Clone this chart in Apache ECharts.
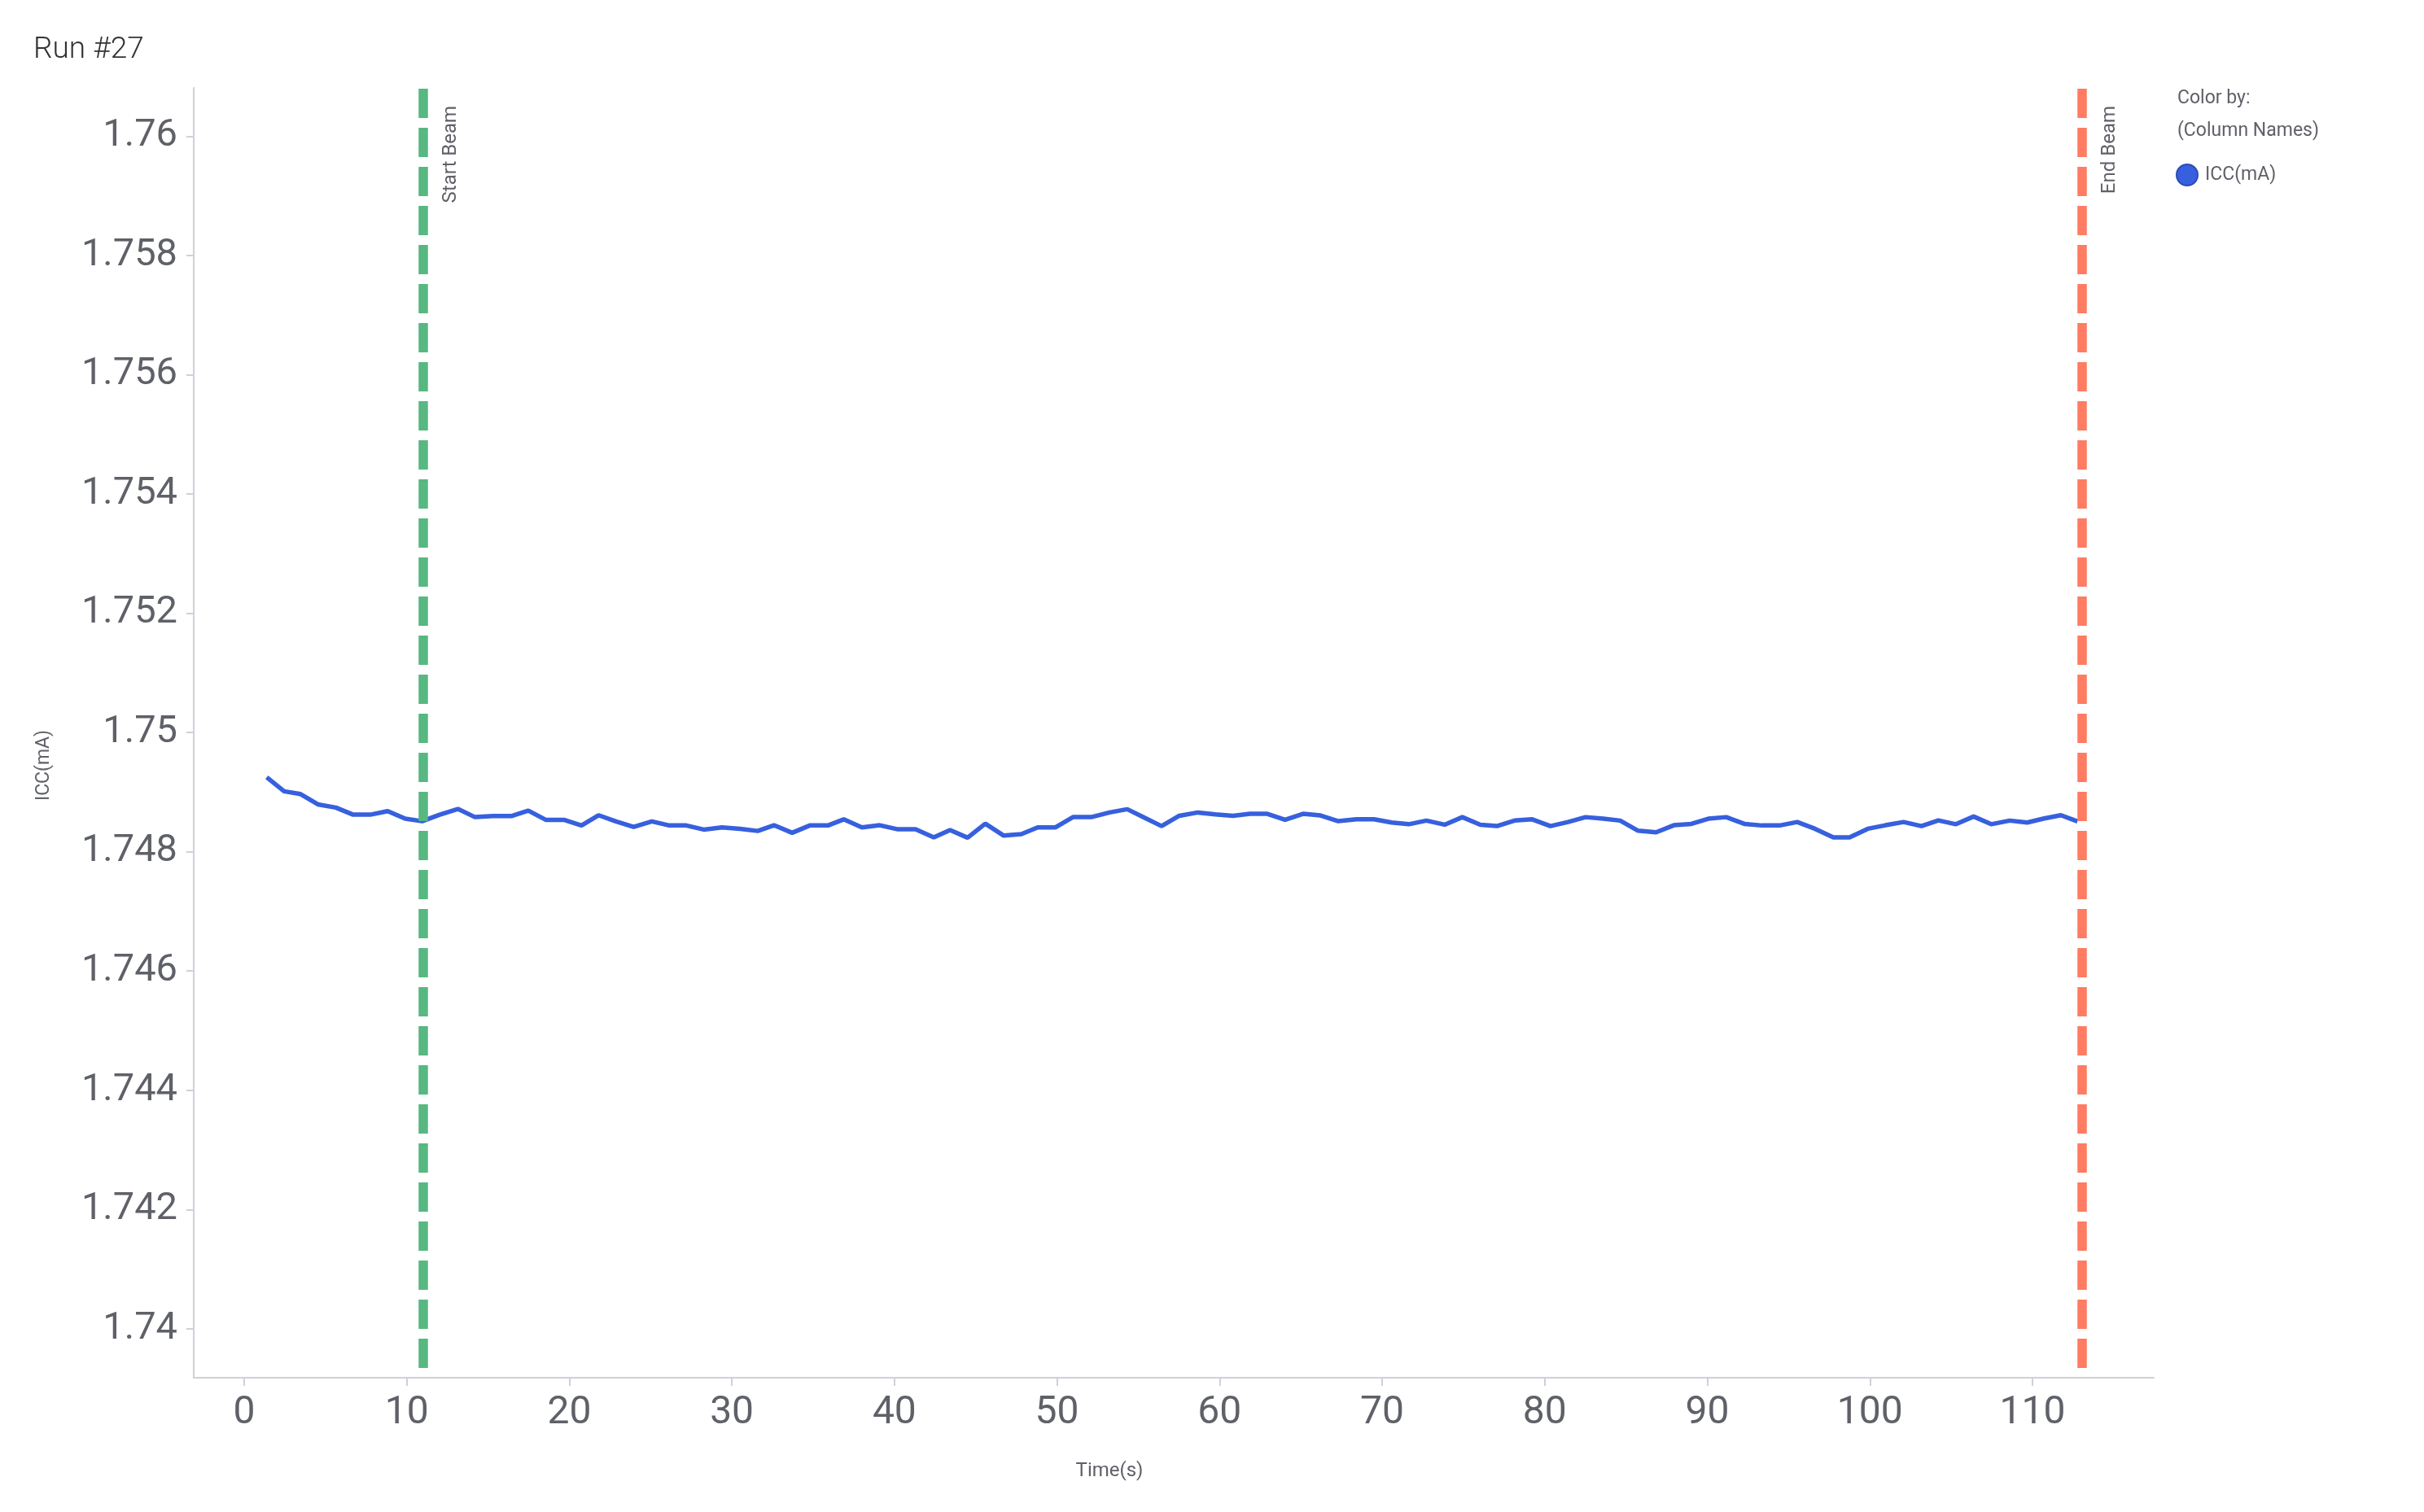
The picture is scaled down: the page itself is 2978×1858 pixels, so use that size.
<!DOCTYPE html>
<html>
<head>
<meta charset="utf-8">
<script src="https://cdn.jsdelivr.net/npm/echarts@6/dist/echarts.min.js"></script>
<style>
  html, body { margin: 0; padding: 0; background: #ffffff; }
  #chart { width: 2978px; height: 1858px; }
</style>
</head>
<body>
<div id="chart"></div>
<script>
// ---- data ----
const chartTitle = 'Run #27';
const seriesName = 'ICC(mA)';
const timeValues = [
  1.39, 2.46, 3.47, 4.54, 5.64, 6.71, 7.76, 8.83, 9.91, 10.95,
  12.03, 13.15, 14.20, 15.31, 16.43, 17.48, 18.55, 19.67, 20.75, 21.80,
  22.87, 23.96, 25.08, 26.15, 27.20, 28.27, 29.39, 30.51, 31.59, 32.59,
  33.71, 34.79, 35.91, 36.88, 38.00, 39.10, 40.21, 41.30, 42.42, 43.42,
  44.50, 45.59, 46.72, 47.81, 48.81, 49.89, 50.98, 52.11, 53.23, 54.32,
  55.40, 56.43, 57.52, 58.66, 59.74, 60.82, 61.87, 62.94, 64.03, 65.13,
  66.21, 67.30, 68.42, 69.50, 70.59, 71.64, 72.72, 73.84, 74.93, 76.04,
  77.06, 78.14, 79.23, 80.35, 81.43, 82.51, 83.60, 84.64, 85.74, 86.85,
  87.94, 89.02, 90.06, 91.16, 92.28, 93.36, 94.45, 95.53, 96.62, 97.75,
  98.75, 99.87, 100.96, 102.07, 103.17, 104.21, 105.29, 106.38, 107.46, 108.60,
  109.67, 110.72, 111.75, 112.77
];
const iccValues = [
  1.749250, 1.749014, 1.748967, 1.748795, 1.748741, 1.748622, 1.748622, 1.748681, 1.748554, 1.748513,
  1.748622, 1.748718, 1.748581, 1.748599, 1.748599, 1.748690, 1.748536, 1.748536, 1.748441, 1.748613,
  1.748509, 1.748417, 1.748509, 1.748441, 1.748441, 1.748372, 1.748408, 1.748386, 1.748349, 1.748445,
  1.748318, 1.748441, 1.748441, 1.748544, 1.748408, 1.748445, 1.748377, 1.748377, 1.748240, 1.748363,
  1.748236, 1.748472, 1.748271, 1.748295, 1.748408, 1.748408, 1.748581, 1.748581, 1.748659, 1.748714,
  1.748568, 1.748431, 1.748604, 1.748659, 1.748626, 1.748604, 1.748636, 1.748636, 1.748536, 1.748636,
  1.748609, 1.748513, 1.748544, 1.748544, 1.748490, 1.748462, 1.748523, 1.748454, 1.748581, 1.748454,
  1.748431, 1.748523, 1.748544, 1.748431, 1.748499, 1.748581, 1.748554, 1.748523, 1.748353, 1.748326,
  1.748445, 1.748468, 1.748554, 1.748581, 1.748468, 1.748441, 1.748441, 1.748499, 1.748386, 1.748240,
  1.748240, 1.748386, 1.748445, 1.748499, 1.748431, 1.748527, 1.748462, 1.748591, 1.748462, 1.748523,
  1.748490, 1.748558, 1.748613, 1.748509
];
const xTickValues = [0, 10, 20, 30, 40, 50, 60, 70, 80, 90, 100, 110];
const yTickValues = [1.74, 1.742, 1.744, 1.746, 1.748, 1.75, 1.752, 1.754, 1.756, 1.758, 1.76];
const markerNames = ['Start Beam', 'End Beam'];
const markerTimes = [11.0, 113.03];
const xRange = [-3.1, 117.46];
const yRange = [1.73918, 1.76081];

// ---- chart ----
const FONT = 'Roboto';
const TXT = '#5f6168';
const AXIS = '#cdd1db';
const BLUE = '#3760de';
const markerColors = ['#57b881', '#ff7b62'];

const seriesData = timeValues.map((t, i) => [t, iccValues[i]]);
const markData = markerTimes.map((t, i) => ({
  xAxis: t,
  lineStyle: { color: markerColors[i], width: 11.5, type: [36, 12], dashOffset: 36 },
  label: { formatter: markerNames[i] }
}));

const chart = echarts.init(document.getElementById('chart'), null, { renderer: 'canvas' });
chart.setOption({
  animation: false,
  backgroundColor: '#ffffff',
  textStyle: { fontFamily: FONT },
  title: {
    text: chartTitle,
    left: 36,
    top: 38,
    textStyle: { fontFamily: FONT, fontSize: 37, fontWeight: 300, color: '#333333' }
  },
  legend: {
    data: [seriesName],
    left: 2668,
    top: 196,
    orient: 'vertical',
    icon: 'circle',
    itemWidth: 26,
    itemHeight: 26,
    itemStyle: { color: BLUE, borderColor: '#2c4cb8', borderWidth: 2 },
    textStyle: { fontFamily: FONT, fontSize: 23, color: TXT, padding: [0, 0, 0, 4] }
  },
  graphic: [
    { type: 'text', left: 2675, top: 110,
      style: { text: 'Color by:', fontFamily: FONT, fontSize: 23, fill: TXT } },
    { type: 'text', left: 2675, top: 150,
      style: { text: '(Column Names)', fontFamily: FONT, fontSize: 23, fill: TXT } }
  ],
  grid: { left: 238, right: 332, top: 108, bottom: 165, containLabel: false },
  xAxis: {
    type: 'value',
    min: xRange[0],
    max: xRange[1],
    name: 'Time(s)',
    nameLocation: 'middle',
    nameGap: 103,
    nameTextStyle: { fontFamily: FONT, fontSize: 24, color: TXT, padding: [0, 158, 0, 0] },
    axisLine: { show: true, onZero: false, lineStyle: { color: AXIS, width: 2 } },
    axisTick: { show: true, customValues: xTickValues, length: 10, lineStyle: { color: AXIS, width: 2 } },
    axisLabel: {
      customValues: xTickValues,
      fontFamily: FONT, fontSize: 48, color: TXT, margin: 20,
      formatter: v => String(Math.round(v))
    },
    splitLine: { show: false }
  },
  yAxis: {
    type: 'value',
    min: yRange[0],
    max: yRange[1],
    name: seriesName,
    nameLocation: 'middle',
    nameRotate: 90,
    nameGap: 172,
    nameTextStyle: { fontFamily: FONT, fontSize: 23, color: TXT, padding: [0, 80, 0, 0] },
    axisLine: { show: true, onZero: false, lineStyle: { color: AXIS, width: 2 } },
    axisTick: { show: true, customValues: yTickValues, length: 9, lineStyle: { color: AXIS, width: 2 } },
    axisLabel: {
      customValues: yTickValues,
      fontFamily: FONT, fontSize: 47, color: TXT, margin: 20,
      formatter: v => String(+v.toFixed(3))
    },
    splitLine: { show: false }
  },
  series: [{
    name: seriesName,
    type: 'line',
    data: seriesData,
    showSymbol: false,
    symbol: 'circle',
    color: BLUE,
    lineStyle: { color: BLUE, width: 5.5 },
    itemStyle: { color: BLUE },
    markLine: {
      silent: true,
      symbol: ['none', 'none'],
      precision: 4,
      label: {
        show: true,
        position: 'insideEndBottom',
        distance: [22, 22],
        fontFamily: FONT,
        fontSize: 24,
        color: TXT
      },
      emphasis: { disabled: true },
      data: markData
    }
  }]
});
</script>
</body>
</html>
